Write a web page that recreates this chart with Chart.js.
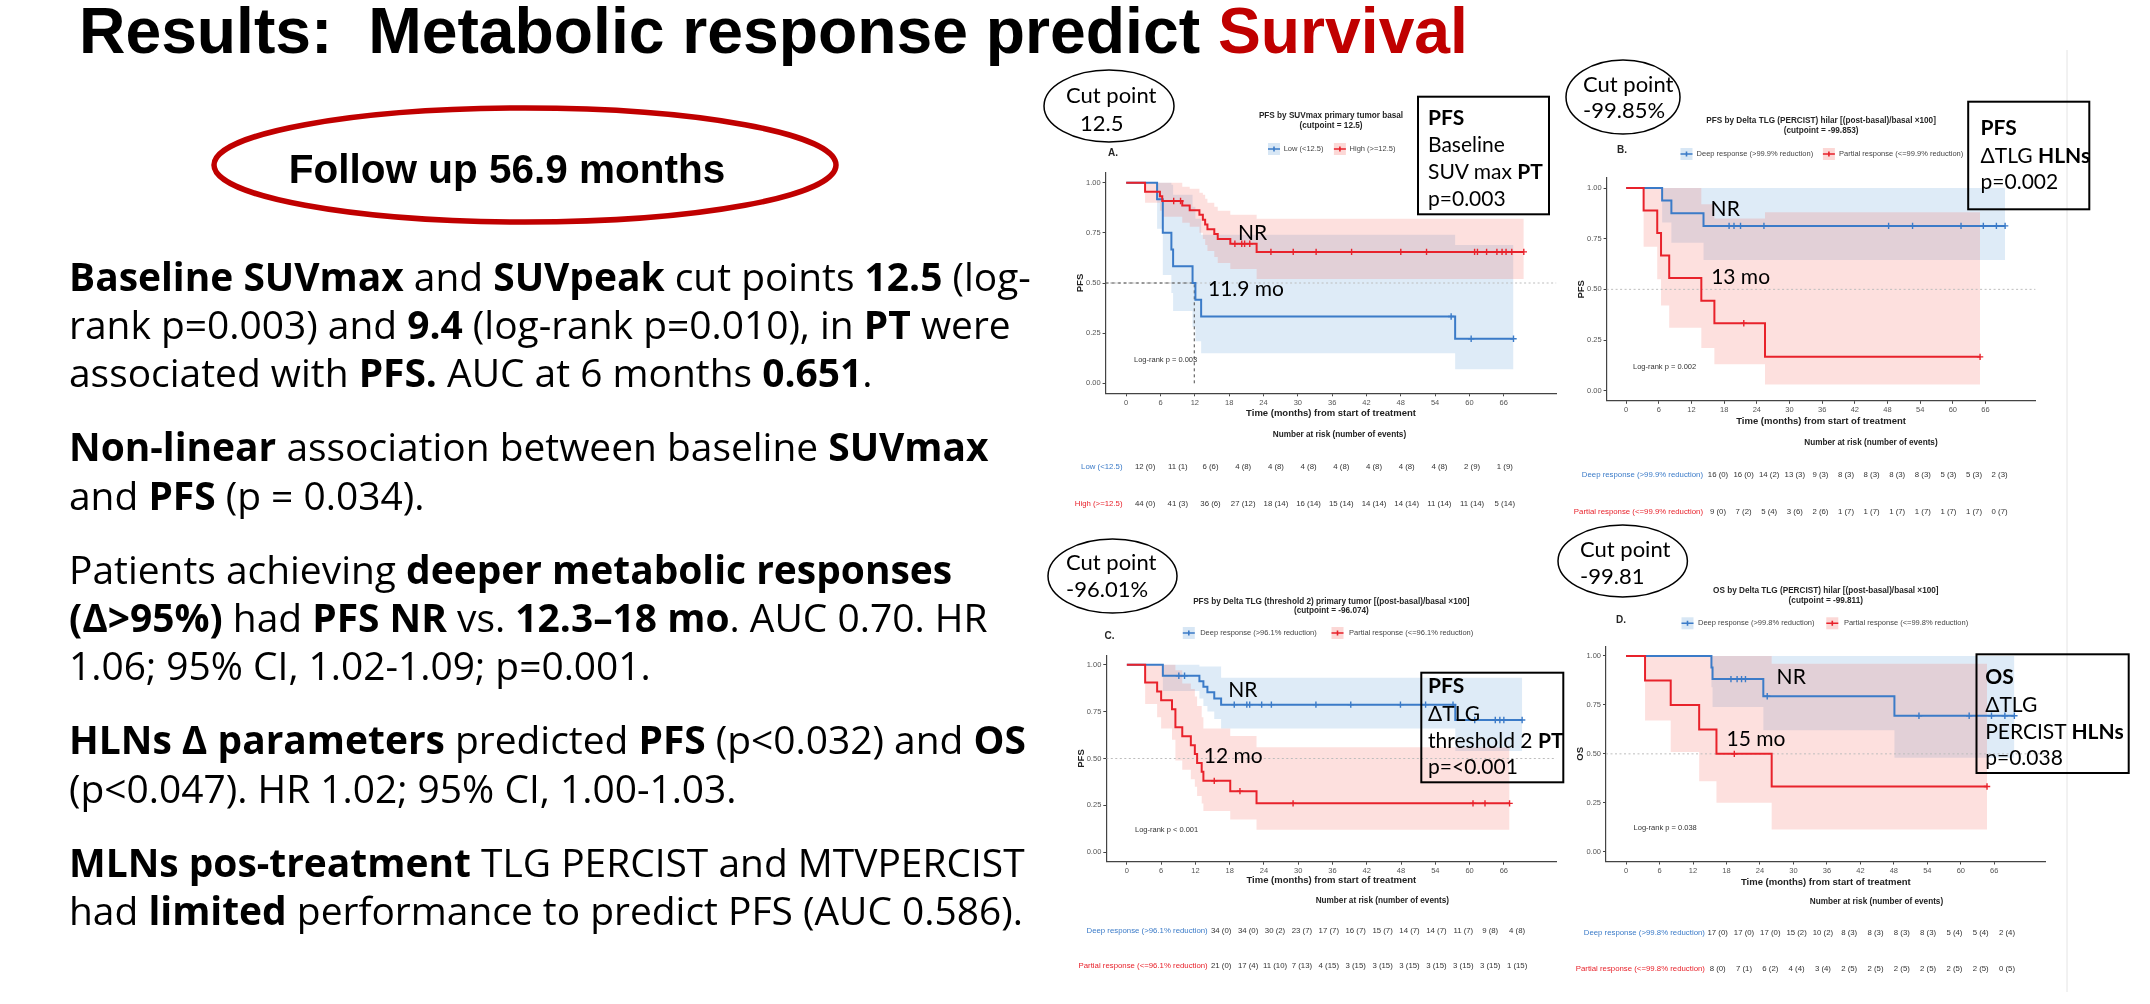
<!DOCTYPE html>
<html><head><meta charset="utf-8">
<script src="https://cdn.jsdelivr.net/npm/chart.js@4.4.1/dist/chart.umd.min.js"></script>
<style>
html,body{margin:0;padding:0;background:#fff;}
body{width:2150px;height:1004px;position:relative;overflow:hidden;}
canvas{position:absolute;}
#ov{position:absolute;left:0;top:0;pointer-events:none;}
.ti{font-family:'Liberation Sans',Arial,sans-serif;font-weight:bold;}
.tx{font-family:Lato,'Open Sans',sans-serif;fill:#000;}
.os{font-family:'Open Sans',Lato,sans-serif;fill:#000;}
.bd{font-weight:bold;}
</style></head><body>
<canvas id="cA"></canvas><canvas id="cB"></canvas><canvas id="cC"></canvas><canvas id="cD"></canvas>
<svg id="ov" width="2150" height="1004" xmlns="http://www.w3.org/2000/svg">
<line x1="2067" y1="50" x2="2067" y2="992" stroke="#e4e4e4" stroke-width="1"/>
<text id="mainTitle" x="79" y="52.7" class="ti" font-size="64.5">Results:&#160; Metabolic response predict <tspan fill="#C00000">Survival</tspan></text>
<ellipse cx="525" cy="165" rx="311" ry="57" fill="none" stroke="#C00000" stroke-width="5.5"/>
<text x="507" y="183" class="ti" font-size="40.5" text-anchor="middle">Follow up 56.9 months</text>

<g id="leftText" class="os" font-size="38">
<text id="leftL1" x="69" y="290.7"><tspan class="bd">Baseline SUVmax</tspan> and <tspan class="bd">SUVpeak</tspan> cut points <tspan class="bd">12.5</tspan> (log-</text>
<text x="69" y="339">rank p=0.003) and <tspan class="bd">9.4</tspan> (log-rank p=0.010), in <tspan class="bd">PT</tspan> were</text>
<text x="69" y="387.3">associated with <tspan class="bd">PFS.</tspan> AUC at 6 months <tspan class="bd">0.651</tspan>.</text>
<text x="69" y="461.3"><tspan class="bd">Non-linear</tspan> association between baseline <tspan class="bd">SUVmax</tspan></text>
<text x="69" y="509.6">and <tspan class="bd">PFS</tspan> (p = 0.034).</text>
<text x="69" y="583.6">Patients achieving <tspan class="bd">deeper metabolic responses</tspan></text>
<text x="69" y="631.9"><tspan class="bd">(Δ&gt;95%)</tspan> had <tspan class="bd">PFS NR</tspan> vs. <tspan class="bd">12.3–18 mo</tspan>. AUC 0.70. HR</text>
<text x="69" y="680.2">1.06; 95% CI, 1.02-1.09; p=0.001.</text>
<text x="69" y="754.2"><tspan class="bd">HLNs Δ parameters</tspan> predicted <tspan class="bd">PFS</tspan> (p&lt;0.032) and <tspan class="bd">OS</tspan></text>
<text x="69" y="802.5">(p&lt;0.047). HR 1.02; 95% CI, 1.00-1.03.</text>
<text x="69" y="876.5"><tspan class="bd">MLNs pos-treatment</tspan> TLG PERCIST and MTVPERCIST</text>
<text x="69" y="924.8">had <tspan class="bd">limited</tspan> performance to predict PFS (AUC 0.586).</text>
</g>

<g fill="none" stroke="#000" stroke-width="1.5">
<ellipse cx="1109" cy="106" rx="65" ry="36"/>
<ellipse cx="1623" cy="97" rx="57" ry="37"/>
<ellipse cx="1112.5" cy="576" rx="64.5" ry="37"/>
<ellipse cx="1622.7" cy="561" rx="64.7" ry="36"/>
</g>
<g class="tx" font-size="22">
<text x="1066" y="103">Cut point</text><text x="1080" y="130.7">12.5</text>
<text x="1583" y="91.5">Cut point</text><text x="1583" y="118">-99.85%</text>
<text x="1066" y="570">Cut point</text><text x="1066" y="597">-96.01%</text>
<text x="1580" y="557">Cut point</text><text x="1580" y="583.7">-99.81</text>
</g>

<g fill="none" stroke="#000" stroke-width="2">
<rect x="1418" y="96.7" width="131" height="117.6"/>
<rect x="1968.2" y="101.7" width="121.1" height="107.6"/>
<rect x="1421.3" y="672.7" width="142" height="109.6"/>
<rect x="1976.5" y="654.3" width="152.2" height="118.7"/>
</g>
<g class="tx" font-size="21">
<text x="1428" y="125" class="bd">PFS</text>
<text x="1428" y="152">Baseline</text>
<text x="1428" y="179">SUV max <tspan class="bd">PT</tspan></text>
<text x="1428" y="206">p=0.003</text>
<text x="1980.6" y="134.7" class="bd">PFS</text>
<text x="1980.6" y="162.7">ΔTLG <tspan class="bd">HLNs</tspan></text>
<text x="1980.6" y="189">p=0.002</text>
<text x="1428" y="693" class="bd">PFS</text>
<text x="1428" y="721">ΔTLG</text>
<text x="1428" y="748">threshold 2 <tspan class="bd">PT</tspan></text>
<text x="1428" y="774">p=&lt;0.001</text>
<text x="1985.2" y="684.3" class="bd">OS</text>
<text x="1985.2" y="712">ΔTLG</text>
<text x="1985.2" y="739.3">PERCIST <tspan class="bd">HLNs</tspan></text>
<text x="1985.2" y="765">p=0.038</text>
<g text-anchor="middle">
<text x="1252.5" y="239.5">NR</text><text x="1246" y="296">11.9 mo</text>
<text x="1725.2" y="216">NR</text><text x="1740.6" y="283.7">13 mo</text>
<text x="1242.8" y="697">NR</text><text x="1233.3" y="763">12 mo</text>
<text x="1791.2" y="684.3">NR</text><text x="1756" y="746">15 mo</text>
</g>
</g>
</svg>
<script>
// ---------- common ----------
const X_TICKS = [0, 6, 12, 18, 24, 30, 36, 42, 48, 54, 60, 66];
const Y_TICKS = [0, 0.25, 0.5, 0.75, 1];
const X_MIN = -3.6, X_MAX = 75.2, Y_MIN = -0.05, Y_MAX = 1.05;
const REF_LEVEL = 0.5;
const X_TITLE = 'Time (months) from start of treatment';
const RISK_TITLE = 'Number at risk (number of events)';

// ---------- Panel A: PFS by SUVmax primary tumor basal ----------
const A_TITLE = ['PFS by SUVmax primary tumor basal', '(cutpoint = 12.5)'];
const A_LABELS = ['Low (<12.5)', 'High (>=12.5)'];
const A_LOGRANK = 'Log-rank p = 0.003';
const A_MEDIAN = 11.9;
const A_LOW_T = [0, 5.4, 6.4, 7.9, 8.2, 11.6, 12.1, 13.1, 57.5, 67.7];
const A_LOW_S = [1, 0.917, 0.75, 0.667, 0.583, 0.5, 0.417, 0.333, 0.222, 0.222];
const A_LOW_U = [1, 1, 1, 0.99, 0.94, 0.88, 0.82, 0.74, 0.69, 0.69];
const A_LOW_L = [1, 0.77, 0.54, 0.45, 0.36, 0.28, 0.21, 0.15, 0.07, 0.07];
const A_LOW_CENS = [56.8, 60.3, 67.7];
const A_HIGH_T = [0, 3.3, 5.9, 6.3, 9.8, 11.1, 12.8, 13.4, 13.8, 14.2, 15.4, 16.0, 18.2, 22.8, 69.5];
const A_HIGH_S = [1, 0.955, 0.932, 0.909, 0.886, 0.863, 0.840, 0.816, 0.792, 0.768, 0.744, 0.720, 0.696, 0.655, 0.655];
const A_HIGH_U = [1, 1, 1, 1, 0.98, 0.97, 0.95, 0.94, 0.92, 0.90, 0.88, 0.86, 0.84, 0.82, 0.82];
const A_HIGH_L = [1, 0.90, 0.86, 0.83, 0.80, 0.78, 0.75, 0.72, 0.69, 0.66, 0.63, 0.60, 0.57, 0.52, 0.52];
const A_HIGH_CENS = [8.3, 9.5, 19.0, 20.2, 20.7, 21.6, 25.3, 29.2, 33.2, 39.4, 48.0, 52.5, 60.9, 61.4, 63.0, 64.8, 65.7, 66.4, 67.4, 69.5];
const A_LOW_RISK = [12, 11, 6, 4, 4, 4, 4, 4, 4, 4, 2, 1];
const A_LOW_EV = [0, 1, 6, 8, 8, 8, 8, 8, 8, 8, 9, 9];
const A_HIGH_RISK = [44, 41, 36, 27, 18, 16, 15, 14, 14, 11, 11, 5];
const A_HIGH_EV = [0, 3, 6, 12, 14, 14, 14, 14, 14, 14, 14, 14];

// ---------- Panel B: PFS by Delta TLG (PERCIST) hilar ----------
const B_TITLE = ['PFS by Delta TLG (PERCIST) hilar [(post-basal)/basal \u00d7100]', '(cutpoint = -99.853)'];
const B_LABELS = ['Deep response (>99.9% reduction)', 'Partial response (<=99.9% reduction)'];
const B_LOGRANK = 'Log-rank p = 0.002';
const B_DEEP_T = [0, 6.6, 8.3, 14.2, 69.6];
const B_DEEP_S = [1, 0.938, 0.875, 0.813, 0.813];
const B_DEEP_U = [1, 1, 1, 1, 1];
const B_DEEP_L = [1, 0.83, 0.73, 0.645, 0.645];
const B_DEEP_CENS = [18.9, 19.8, 21.0, 25.3, 48.2, 52.6, 61.5, 65.6, 68.0, 69.6];
const B_PART_T = [0, 3.2, 5.7, 6.4, 7.9, 13.8, 16.2, 25.5, 65.0];
const B_PART_S = [1, 0.889, 0.778, 0.667, 0.556, 0.444, 0.333, 0.167, 0.167];
const B_PART_U = [1, 1, 1, 1, 1, 0.92, 0.85, 0.88, 0.88];
const B_PART_L = [1, 0.71, 0.55, 0.42, 0.31, 0.21, 0.13, 0.03, 0.03];
const B_PART_CENS = [21.6, 65.0];
const B_DEEP_RISK = [16, 16, 14, 13, 9, 8, 8, 8, 8, 5, 5, 2];
const B_DEEP_EV = [0, 0, 2, 3, 3, 3, 3, 3, 3, 3, 3, 3];
const B_PART_RISK = [9, 7, 5, 3, 2, 1, 1, 1, 1, 1, 1, 0];
const B_PART_EV = [0, 2, 4, 6, 6, 7, 7, 7, 7, 7, 7, 7];

// ---------- Panel C: PFS by Delta TLG (threshold 2) primary tumor ----------
const C_TITLE = ['PFS by Delta TLG (threshold 2) primary tumor [(post-basal)/basal \u00d7100]', '(cutpoint = -96.074)'];
const C_LABELS = ['Deep response (>96.1% reduction)', 'Partial response (<=96.1% reduction)'];
const C_LOGRANK = 'Log-rank p < 0.001';
const C_DEEP_T = [0, 6.3, 12.7, 13.4, 14.1, 15.3, 16.5, 57.5, 69.2];
const C_DEEP_S = [1, 0.941, 0.912, 0.882, 0.853, 0.820, 0.787, 0.705, 0.705];
const C_DEEP_U = [1, 1, 0.99, 0.99, 0.99, 0.99, 0.93, 0.93, 0.93];
const C_DEEP_L = [1, 0.86, 0.82, 0.78, 0.75, 0.71, 0.66, 0.54, 0.54];
const C_DEEP_CENS = [9.1, 10.1, 18.8, 21.0, 21.5, 23.6, 25.3, 33.1, 39.2, 47.9, 52.3, 57.1, 60.9, 64.5, 65.3, 66.0, 69.2];
const C_PART_T = [0, 3.2, 5.3, 6.0, 7.9, 8.5, 9.7, 11.2, 11.9, 12.3, 13.1, 13.4, 18.1, 22.7, 67.0];
const C_PART_S = [1, 0.905, 0.857, 0.810, 0.762, 0.667, 0.619, 0.571, 0.524, 0.476, 0.429, 0.381, 0.326, 0.261, 0.261];
const C_PART_U = [1, 1, 1, 1, 1, 0.97, 0.90, 0.87, 0.83, 0.78, 0.72, 0.66, 0.62, 0.56, 0.56];
const C_PART_L = [1, 0.79, 0.72, 0.66, 0.60, 0.49, 0.44, 0.39, 0.35, 0.30, 0.26, 0.22, 0.175, 0.12, 0.12];
const C_PART_CENS = [15.3, 19.8, 29.1, 60.6, 62.7, 67.0];
const C_DEEP_RISK = [34, 34, 30, 23, 17, 16, 15, 14, 14, 11, 9, 4];
const C_DEEP_EV = [0, 0, 2, 7, 7, 7, 7, 7, 7, 7, 8, 8];
const C_PART_RISK = [21, 17, 11, 7, 4, 3, 3, 3, 3, 3, 3, 1];
const C_PART_EV = [0, 4, 10, 13, 15, 15, 15, 15, 15, 15, 15, 15];

// ---------- Panel D: OS by Delta TLG (PERCIST) hilar ----------
const D_TITLE = ['OS by Delta TLG (PERCIST) hilar [(post-basal)/basal \u00d7100]', '(cutpoint = -99.811)'];
const D_LABELS = ['Deep response (>99.8% reduction)', 'Partial response (<=99.8% reduction)'];
const D_LOGRANK = 'Log-rank p = 0.038';
const D_DEEP_T = [0, 15.3, 15.5, 24.6, 48.1, 69.6];
const D_DEEP_S = [1, 0.941, 0.882, 0.794, 0.695, 0.695];
const D_DEEP_U = [1, 1, 1, 1, 1, 1];
const D_DEEP_L = [1, 0.84, 0.74, 0.62, 0.48, 0.48];
const D_DEEP_CENS = [18.8, 19.9, 20.7, 21.4, 25.3, 52.5, 61.5, 65.5, 67.9, 69.6];
const D_PART_T = [0, 3.4, 8.0, 13.1, 16.2, 26.1, 64.7];
const D_PART_S = [1, 0.875, 0.75, 0.625, 0.5, 0.333, 0.333];
const D_PART_U = [1, 1, 1, 1, 1, 0.96, 0.96];
const D_PART_L = [1, 0.67, 0.51, 0.36, 0.25, 0.114, 0.114];
const D_PART_CENS = [19.4, 64.7];
const D_DEEP_RISK = [17, 17, 17, 15, 10, 8, 8, 8, 8, 5, 5, 2];
const D_DEEP_EV = [0, 0, 0, 2, 2, 3, 3, 3, 3, 4, 4, 4];
const D_PART_RISK = [8, 7, 6, 4, 3, 2, 2, 2, 2, 2, 2, 0];
const D_PART_EV = [0, 1, 2, 4, 4, 5, 5, 5, 5, 5, 5, 5];

// ---------- styling ----------
const BLUE = '#3B7BC8', RED = '#E8222B';
const BLUE_BAND = 'rgba(100,160,215,0.21)', RED_BAND = 'rgba(245,100,90,0.2)';
const BLUE_KEY = 'rgba(100,160,215,0.25)', RED_KEY = 'rgba(245,100,90,0.25)';
const FONT = "'Liberation Sans', Arial, sans-serif";
Chart.defaults.font.family = FONT;

// fit slide text blocks to the measured widths of the reference
function fitWidth(groupEl, lineEl, target) {
  const fs = parseFloat(groupEl.getAttribute('font-size'));
  const w = lineEl.getComputedTextLength();
  if (w > 0) groupEl.setAttribute('font-size', (fs * target / w).toFixed(2));
}
fitWidth(document.getElementById('leftText'), document.getElementById('leftL1'), 962);
fitWidth(document.getElementById('mainTitle'), document.getElementById('mainTitle'), 1389);

function survAt(T, S, t) { let v = S[0]; for (let i = 0; i < T.length; i++) { if (T[i] <= t + 1e-9) v = S[i]; } return v; }
function pts(T, V) { return T.map((t, i) => ({x: t, y: V[i]})); }
function grp(label, color, band, key, T, S, U, L, C, R, E) { return {label, color, band, key, T, S, U, L, C, R, E}; }

const PANELS = [
  {id: 'cA', box: {x: 1040, y: 100, w: 530, h: 420}, area: {l: 1105.6, t: 172.7, r: 1556.4, b: 393.3}, xTitleOff: 20, ytitle: 'PFS',
   title: A_TITLE, logrank: A_LOGRANK, letter: 'A.', median: A_MEDIAN,
   groups: [grp(A_LABELS[0], BLUE, BLUE_BAND, BLUE_KEY, A_LOW_T, A_LOW_S, A_LOW_U, A_LOW_L, A_LOW_CENS, A_LOW_RISK, A_LOW_EV),
            grp(A_LABELS[1], RED, RED_BAND, RED_KEY, A_HIGH_T, A_HIGH_S, A_HIGH_U, A_HIGH_L, A_HIGH_CENS, A_HIGH_RISK, A_HIGH_EV)],
   pos: {titleY: [116, 125.3], legendY: 149, legend: [[1268.5, 1283.7], [1334.4, 1349.6]], letter: [1113, 153.3], logrank: [1134, 360],
         riskHead: [1339.5, 434.3], riskRows: [466.7, 504], riskLabelR: 1122.5, riskCol0: 1145.1, riskStep: 32.7}},
  {id: 'cB', box: {x: 1560, y: 100, w: 500, h: 425}, area: {l: 1606.6, t: 177.9, r: 2035.6, b: 400.8}, xTitleOff: 20.9, ytitle: 'PFS',
   title: B_TITLE, logrank: B_LOGRANK, letter: 'B.', median: null,
   groups: [grp(B_LABELS[0], BLUE, BLUE_BAND, BLUE_KEY, B_DEEP_T, B_DEEP_S, B_DEEP_U, B_DEEP_L, B_DEEP_CENS, B_DEEP_RISK, B_DEEP_EV),
            grp(B_LABELS[1], RED, RED_BAND, RED_KEY, B_PART_T, B_PART_S, B_PART_U, B_PART_L, B_PART_CENS, B_PART_RISK, B_PART_EV)],
   pos: {titleY: [120.7, 130.7], legendY: 154, legend: [[1681, 1696.6], [1823.4, 1839]], letter: [1622, 150], logrank: [1633, 366.7],
         riskHead: [1871, 442.3], riskRows: [475, 511.7], riskLabelR: 1703, riskCol0: 1718, riskStep: 25.6}},
  {id: 'cC', box: {x: 1040, y: 585, w: 530, h: 400}, area: {l: 1106.3, t: 655.3, r: 1556.4, b: 861.7}, xTitleOff: 19, ytitle: 'PFS',
   title: C_TITLE, logrank: C_LOGRANK, letter: 'C.', median: null,
   groups: [grp(C_LABELS[0], BLUE, BLUE_BAND, BLUE_KEY, C_DEEP_T, C_DEEP_S, C_DEEP_U, C_DEEP_L, C_DEEP_CENS, C_DEEP_RISK, C_DEEP_EV),
            grp(C_LABELS[1], RED, RED_BAND, RED_KEY, C_PART_T, C_PART_S, C_PART_U, C_PART_L, C_PART_CENS, C_PART_RISK, C_PART_EV)],
   pos: {titleY: [601.7, 611], legendY: 633, legend: [[1183.3, 1200.2], [1332, 1349]], letter: [1109.6, 636], logrank: [1135, 830],
         riskHead: [1382.3, 900.7], riskRows: [930.7, 966], riskLabelR: 1207.7, riskCol0: 1221.2, riskStep: 26.9}},
  {id: 'cD', box: {x: 1560, y: 575, w: 500, h: 410}, area: {l: 1606.0, t: 646.2, r: 2045.6, b: 861.5}, xTitleOff: 21.2, ytitle: 'OS',
   title: D_TITLE, logrank: D_LOGRANK, letter: 'D.', median: null,
   groups: [grp(D_LABELS[0], BLUE, BLUE_BAND, BLUE_KEY, D_DEEP_T, D_DEEP_S, D_DEEP_U, D_DEEP_L, D_DEEP_CENS, D_DEEP_RISK, D_DEEP_EV),
            grp(D_LABELS[1], RED, RED_BAND, RED_KEY, D_PART_T, D_PART_S, D_PART_U, D_PART_L, D_PART_CENS, D_PART_RISK, D_PART_EV)],
   pos: {titleY: [591, 600.7], legendY: 623.3, legend: [[1682, 1698], [1826.8, 1843.9]], letter: [1621, 620], logrank: [1633.6, 828.3],
         riskHead: [1876.5, 901.7], riskRows: [933.3, 969], riskLabelR: 1704.9, riskCol0: 1717.7, riskStep: 26.3}}
];

function buildDatasets(p) {
  const ds = [];
  const blue = p.groups[0], red = p.groups[1];
  [red, blue].forEach(g => ds.push({data: g.C.map(t => ({x: t, y: survAt(g.T, g.S, t)})), showLine: false,
    pointStyle: 'cross', pointRadius: 3.2, pointBorderWidth: 1.4, pointBorderColor: g.color, pointBackgroundColor: g.color, borderColor: g.color}));
  [red, blue].forEach(g => ds.push({data: pts(g.T, g.S), stepped: 'before', borderColor: g.color, borderWidth: 2, pointRadius: 0, fill: false}));
  if (p.median != null) ds.push({data: [{x: X_MIN, y: REF_LEVEL}, {x: p.median, y: REF_LEVEL}, {x: p.median, y: 0}],
    borderColor: '#4a4a4a', borderWidth: 1, borderDash: [3, 3], pointRadius: 0, fill: false});
  ds.push({data: [{x: X_MIN, y: REF_LEVEL}, {x: X_MAX, y: REF_LEVEL}], borderColor: '#bdbdbd', borderWidth: 1, borderDash: [2, 2.5], pointRadius: 0, fill: false});
  [red, blue].forEach(g => {
    ds.push({data: pts(g.T, g.U), stepped: 'before', borderWidth: 0, borderColor: 'rgba(0,0,0,0)', pointRadius: 0, fill: '+1', backgroundColor: g.band});
    ds.push({data: pts(g.T, g.L), stepped: 'before', borderWidth: 0, borderColor: 'rgba(0,0,0,0)', pointRadius: 0, fill: false});
  });
  return ds;
}

function textPlugin(p) {
  return {id: 'txt_' + p.id, afterDraw(chart) {
    const ctx = chart.ctx, ox = p.box.x, oy = p.box.y, ca = chart.chartArea;
    const cx = (ca.left + ca.right) / 2;
    ctx.save();
    ctx.textBaseline = 'middle';
    ctx.fillStyle = '#262626'; ctx.textAlign = 'center';
    ctx.font = 'bold 8.2px ' + FONT;
    p.title.forEach((s, i) => ctx.fillText(s, cx, p.pos.titleY[i] - oy));
    ctx.font = 'bold 10px ' + FONT;
    ctx.fillText(p.letter, p.pos.letter[0] - ox, p.pos.letter[1] - oy);
    p.groups.forEach((g, i) => {
      const kx = p.pos.legend[i][0] - ox, tx = p.pos.legend[i][1] - ox, y = p.pos.legendY - oy;
      ctx.fillStyle = g.key; ctx.fillRect(kx - 0.5, y - 6, 12, 12);
      ctx.strokeStyle = g.color; ctx.lineWidth = 1.6;
      ctx.beginPath(); ctx.moveTo(kx - 0.5, y); ctx.lineTo(kx + 11.5, y);
      ctx.moveTo(kx + 5.5, y - 2.5); ctx.lineTo(kx + 5.5, y + 2.5); ctx.stroke();
      ctx.fillStyle = '#444'; ctx.textAlign = 'left'; ctx.font = '7.5px ' + FONT;
      ctx.fillText(g.label, tx, y);
    });
    ctx.fillStyle = '#333'; ctx.font = '7.5px ' + FONT; ctx.textAlign = 'left';
    ctx.fillText(p.logrank, p.pos.logrank[0] - ox, p.pos.logrank[1] - oy);
    ctx.font = 'bold 8.2px ' + FONT; ctx.fillStyle = '#222'; ctx.textAlign = 'center';
    ctx.fillText(RISK_TITLE, p.pos.riskHead[0] - ox, p.pos.riskHead[1] - oy);
    p.groups.forEach((g, i) => {
      const y = p.pos.riskRows[i] - oy;
      ctx.font = '7.8px ' + FONT; ctx.textAlign = 'right'; ctx.fillStyle = g.color;
      ctx.fillText(g.label, p.pos.riskLabelR - ox, y);
      ctx.fillStyle = '#333'; ctx.textAlign = 'center';
      g.R.forEach((n, j) => ctx.fillText(n + ' (' + g.E[j] + ')', p.pos.riskCol0 + j * p.pos.riskStep - ox, y));
    });
    ctx.restore();
  }};
}

function axisCommon() {
  return {
    grid: {display: true, drawOnChartArea: false, drawTicks: true, tickLength: 3, tickColor: '#444', tickWidth: 1},
    border: {display: true, color: '#444', width: 1.2}
  };
}

PANELS.forEach(p => {
  const cv = document.getElementById(p.id);
  cv.width = p.box.w; cv.height = p.box.h;
  cv.style.left = p.box.x + 'px'; cv.style.top = p.box.y + 'px';
  cv.style.width = p.box.w + 'px'; cv.style.height = p.box.h + 'px';
  const WY = 31;
  const titleFont = {family: FONT, size: 9.5, weight: 'bold'};
  const HX = p.xTitleOff + 9.5 * 1.2 / 2;
  const pad = {left: p.area.l - p.box.x - WY, top: p.area.t - p.box.y, right: p.box.x + p.box.w - p.area.r, bottom: p.box.y + p.box.h - p.area.b - HX};
  new Chart(cv, {
    type: 'line',
    data: {datasets: buildDatasets(p)},
    options: {
      responsive: false, maintainAspectRatio: false, animation: false, events: [],
      layout: {padding: pad, autoPadding: false},
      plugins: {legend: {display: false}, tooltip: {enabled: false}, title: {display: false}},
      scales: {
        x: Object.assign(axisCommon(), {type: 'linear', min: X_MIN, max: X_MAX,
          afterBuildTicks: s => { s.ticks = X_TICKS.map(v => ({value: v})); },
          afterFit: s => { s.height = HX; },
          ticks: {font: {family: FONT, size: 7.5}, color: '#555', padding: 2, maxRotation: 0, autoSkip: false, callback: v => String(v)},
          title: {display: true, text: X_TITLE, font: titleFont, color: '#222', padding: 0}}),
        y: Object.assign(axisCommon(), {type: 'linear', min: Y_MIN, max: Y_MAX,
          afterBuildTicks: s => { s.ticks = Y_TICKS.map(v => ({value: v})); },
          afterFit: s => { s.width = WY; },
          ticks: {font: {family: FONT, size: 7.5}, color: '#555', padding: 2, autoSkip: false, callback: v => Number(v).toFixed(2)},
          title: {display: true, text: p.ytitle, font: titleFont, color: '#222', padding: 0}})
      }
    },
    plugins: [textPlugin(p)]
  });
});
</script>
</body></html>
